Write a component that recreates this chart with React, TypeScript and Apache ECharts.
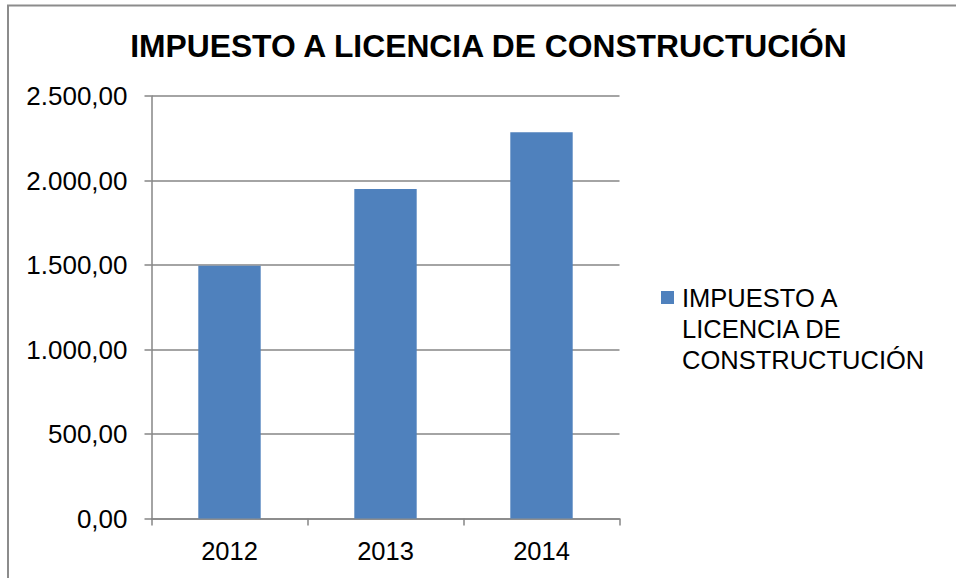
import React, { useEffect, useRef } from "react";
import * as echarts from "echarts";

const TITLE = "IMPUESTO A LICENCIA DE CONSTRUCTUCIÓN";
const SERIES_NAME = "IMPUESTO A LICENCIA DE CONSTRUCTUCIÓN";
const LEGEND_LINES = ["IMPUESTO A", "LICENCIA DE", "CONSTRUCTUCIÓN"];
const categories = ["2012", "2013", "2014"];
const values = [1496, 1950, 2285];
const Y_MIN = 0;
const Y_MAX = 2500;
const Y_INTERVAL = 500;

const fmt = (v: number) => {
  const fixed = v.toFixed(2);
  const [intPart, dec] = fixed.split(".");
  const withDots = intPart.replace(/\B(?=(\d{3})+(?!\d))/g, ".");
  return `${withDots},${dec}`;
};

export default function App() {
  const ref = useRef<HTMLDivElement>(null);
  useEffect(() => {
    if (!ref.current) return;
    const chart = echarts.init(ref.current, undefined, { renderer: "svg" });
    const font = "Liberation Sans, Arial, sans-serif";
    chart.setOption({
      animation: false,
      backgroundColor: "#ffffff",
      textStyle: { fontFamily: font },
      graphic: [
        {
          type: "rect",
          shape: { x: 8, y: 5.5, width: 1000, height: 700 },
          style: { fill: "none", stroke: "#8c8c8c", lineWidth: 2 },
          silent: true,
        },
        {
          type: "text",
          x: 488.5,
          y: 46,
          style: {
            text: TITLE,
            fontFamily: font,
            fontWeight: "bold",
            fontSize: 31.8,
            fill: "#000000",
            align: "center",
            verticalAlign: "middle",
          },
        },
      ],
      legend: {
        show: true,
        left: 661,
        top: 282,
        padding: 0,
        orient: "vertical",
        icon: "path://M0,0h0.01v0.01h-0.01zM0,9h13v13h-13zM15.99,92.99h0.01v0.01h-0.01z",
        itemWidth: 16,
        itemHeight: 93,
        data: [SERIES_NAME],
        formatter: () => LEGEND_LINES.join("\n"),
        textStyle: {
          fontFamily: font,
          fontSize: 25.5,
          lineHeight: 31,
          color: "#000000",
        },
      },
      grid: {
        left: 151.5,
        right: 336.5,
        top: 96,
        bottom: 59.5,
        containLabel: false,
      },
      xAxis: {
        type: "category",
        data: categories,
        axisLine: { show: true, lineStyle: { color: "#868686", width: 1.5 } },
        axisTick: { show: true, length: 7, alignWithLabel: false, lineStyle: { color: "#868686", width: 1.5 } },
        axisLabel: { fontFamily: font, fontSize: 25.5, color: "#000000", margin: 19 },
        splitLine: { show: false },
      },
      yAxis: {
        type: "value",
        min: Y_MIN,
        max: Y_MAX,
        interval: Y_INTERVAL,
        axisLine: { show: true, lineStyle: { color: "#868686", width: 1.5 } },
        axisTick: { show: true, length: 7, lineStyle: { color: "#868686", width: 1.5 } },
        axisLabel: {
          fontFamily: font,
          fontSize: 26,
          color: "#000000",
          margin: 24,
          formatter: (v: number) => fmt(v),
        },
        splitLine: { show: true, lineStyle: { color: "#868686", width: 1.5 } },
      },
      series: [
        {
          name: SERIES_NAME,
          type: "bar",
          data: values,
          barWidth: "40%",
          itemStyle: { color: "#4F81BD" },
        },
      ],
    });
    return () => chart.dispose();
  }, []);
  return (
    <div
      ref={ref}
      style={{ position: "absolute", left: 0, top: 0, width: 956, height: 578 }}
    />
  );
}
